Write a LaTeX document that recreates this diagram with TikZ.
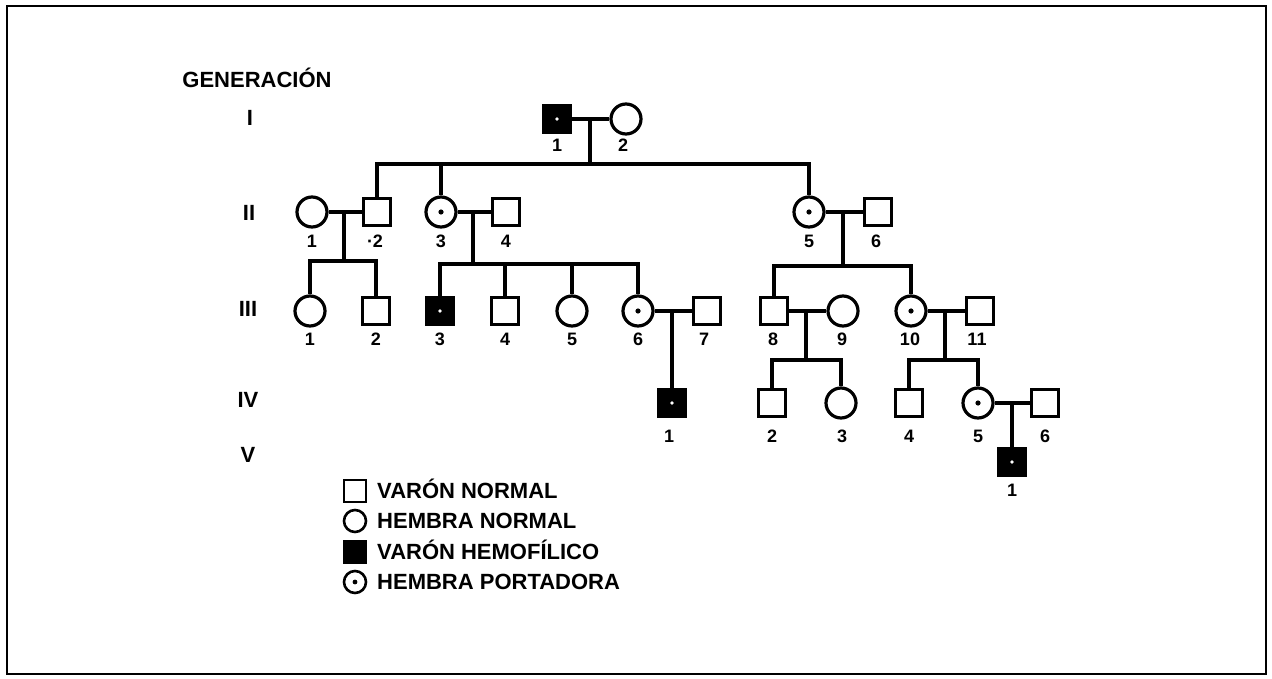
\documentclass[tikz,border=0pt]{standalone}
\usepackage{fontspec}
\setmainfont{Liberation Sans}
\begin{document}
\begin{tikzpicture}[x=1pt,y=-1pt,
  line/.style={line width=3.2pt},
  male/.style={draw, rectangle, minimum size=26.5pt, inner sep=0pt, line width=3.2pt},
  female/.style={draw, circle, minimum size=30pt, inner sep=0pt, line width=3.2pt},
  affected/.style={male, fill=black, path picture={\fill[white] (path picture bounding box.center) circle (1.8pt);}},
  carrier/.style={female, path picture={\fill[black] (path picture bounding box.center) circle (2.6pt);}},
  lmale/.style={draw, rectangle, minimum size=22pt, inner sep=0pt, line width=2.6pt},
  lfemale/.style={draw, circle, minimum size=22pt, inner sep=0pt, line width=2.6pt},
  laffected/.style={lmale, fill=black},
  lcarrier/.style={lfemale, path picture={\fill[black] (path picture bounding box.center) circle (2.4pt);}},
  num/.style={font=\bfseries\fontsize{18}{18}\selectfont, inner sep=0pt},
  gen/.style={font=\bfseries\fontsize{22}{22}\selectfont, inner sep=0pt},
  legtext/.style={font=\bfseries\fontsize{22}{22}\selectfont, inner sep=0pt, anchor=base west},
  frame/.style={line width=2.8pt}
]
\useasboundingbox (0,0) rectangle (1272,679);
\fill[white] (0,0) rectangle (1272,679);
\draw[frame] (7,6) rectangle (1266,674);

% generation labels
\node[gen, anchor=base] (genhead) at (257,88) {GENERACIÓN};
\node[gen] (gI) at (250,118) {I};
\node[gen] (gII) at (249,213) {II};
\node[gen] (gIII) at (248,309) {III};
\node[gen] (gIV) at (248,400) {IV};
\node[gen] (gV) at (248,455) {V};

% Generation I
\node[affected] (I1) at (557,119) {};
\node[female] (I2) at (626,119) {};
\node[num] (nI1) at (557,145) {1};
\node[num] (nI2) at (623,145) {2};

% Generation II
\node[female] (II1) at (312,212) {};
\node[male] (II2) at (377,212) {};
\node[carrier] (II3) at (441,212) {};
\node[male] (II4) at (506,212) {};
\node[carrier] (II5) at (809,212) {};
\node[male] (II6) at (878,212) {};
\node[num] (nII1) at (312,241) {1};
\node[num] (nII2) at (375,241) {·2};
\node[num] (nII3) at (441,241) {3};
\node[num] (nII4) at (506,241) {4};
\node[num] (nII5) at (809,241) {5};
\node[num] (nII6) at (876,241) {6};

% Generation III
\node[female] (III1) at (310,311) {};
\node[male] (III2) at (376,311) {};
\node[affected] (III3) at (440,311) {};
\node[male] (III4) at (505,311) {};
\node[female] (III5) at (572,311) {};
\node[carrier] (III6) at (638,311) {};
\node[male] (III7) at (707,311) {};
\node[male] (III8) at (774,311) {};
\node[female] (III9) at (843,311) {};
\node[carrier] (III10) at (911,311) {};
\node[male] (III11) at (980,311) {};
\node[num] (nIII1) at (310,339) {1};
\node[num] (nIII2) at (376,339) {2};
\node[num] (nIII3) at (440,339) {3};
\node[num] (nIII4) at (505,339) {4};
\node[num] (nIII5) at (572,339) {5};
\node[num] (nIII6) at (638,339) {6};
\node[num] (nIII7) at (704,339) {7};
\node[num] (nIII8) at (773,339) {8};
\node[num] (nIII9) at (842,339) {9};
\node[num] (nIII10) at (910,339) {10};
\node[num] (nIII11) at (977,339) {11};

% Generation IV
\node[affected] (IV1) at (672,403) {};
\node[male] (IV2) at (772,403) {};
\node[female] (IV3) at (841,403) {};
\node[male] (IV4) at (909,403) {};
\node[carrier] (IV5) at (978,403) {};
\node[male] (IV6) at (1045,403) {};
\node[num] (nIV1) at (669,436) {1};
\node[num] (nIV2) at (772,436) {2};
\node[num] (nIV3) at (842,436) {3};
\node[num] (nIV4) at (909,436) {4};
\node[num] (nIV5) at (978,436) {5};
\node[num] (nIV6) at (1045,436) {6};

% Generation V
\node[affected] (V1) at (1012,462) {};
\node[num] (nV1) at (1012,490) {1};

% sibship coordinates
\coordinate (sI) at (590,164);
\coordinate (sII12) at (344,261);
\coordinate (sII34) at (473,264);
\coordinate (sII56) at (843,266);
\coordinate (sIII89) at (806,360);
\coordinate (sIII1011) at (945,360);

% connectors
\draw[line] (I1) -- (I2);
\draw[line] (I1 -| sI) -- (sI);
\draw[line] (II2) |- (sI) -| (II5);
\draw[line] (II3 |- sI) -- (II3);

\draw[line] (II1) -- (II2);
\draw[line] (II1 -| sII12) -- (sII12);
\draw[line] (III1) |- (sII12) -| (III2);

\draw[line] (II3) -- (II4);
\draw[line] (II3 -| sII34) -- (sII34);
\draw[line] (III3) |- (sII34) -| (III6);
\draw[line] (III4 |- sII34) -- (III4);
\draw[line] (III5 |- sII34) -- (III5);

\draw[line] (II5) -- (II6);
\draw[line] (II5 -| sII56) -- (sII56);
\draw[line] (III8) |- (sII56) -| (III10);

\draw[line] (III6) -- (III7);
\draw[line] (III6 -| IV1) -- (IV1);

\draw[line] (III8) -- (III9);
\draw[line] (III8 -| sIII89) -- (sIII89);
\draw[line] (IV2) |- (sIII89) -| (IV3);

\draw[line] (III10) -- (III11);
\draw[line] (III10 -| sIII1011) -- (sIII1011);
\draw[line] (IV4) |- (sIII1011) -| (IV5);

\draw[line] (IV5) -- (IV6);
\draw[line] (IV5 -| V1) -- (V1);

% legend
\node[lmale] (L1) at (355,491) {};
\node[lfemale] (L2) at (355,521) {};
\node[laffected] (L3) at (355,552) {};
\node[lcarrier] (L4) at (355,582) {};
\node[legtext] (T1) at (377,498.5) {VARÓN NORMAL};
\node[legtext] (T2) at (377,528.5) {HEMBRA NORMAL};
\node[legtext] (T3) at (377,559.5) {VARÓN HEMOFÍLICO};
\node[legtext] (T4) at (377,589.5) {HEMBRA PORTADORA};
\end{tikzpicture}
\end{document}
